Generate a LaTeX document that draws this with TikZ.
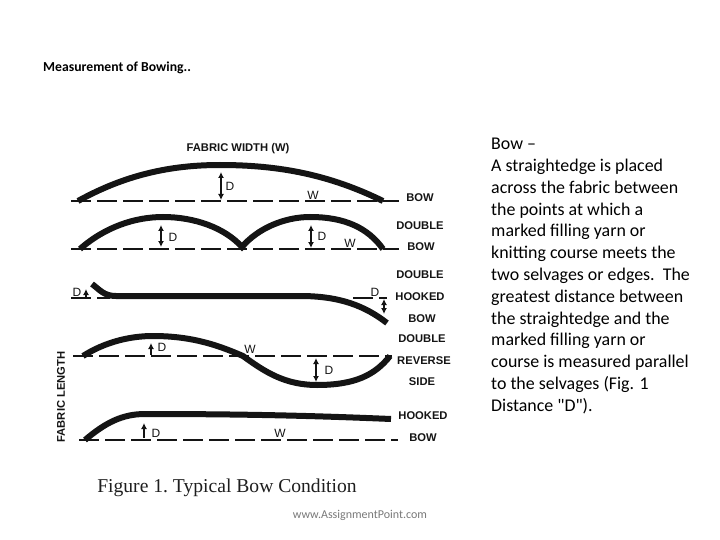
\documentclass[tikz,border=0pt]{standalone}
\usepackage{fontspec}
\setmainfont[Ligatures=TeXOff]{Carlito}
\newfontfamily\figsans{Liberation Sans}
\newfontfamily\figserif{Liberation Serif}
\usetikzlibrary{arrows.meta}
\definecolor{bwink}{RGB}{20,20,20}
\definecolor{bwtext}{RGB}{30,30,30}
\definecolor{bwweb}{RGB}{120,120,120}
\tikzset{
  bowline/.style={draw=bwink, line width=6pt, line cap=butt},
  refline/.style={draw=bwink, line width=1.1pt, dash pattern=on 20pt off 6pt},
  gap/.style={<->, >={Latex[length=6pt,width=6pt]}, draw=bwink, line width=1.3pt},
  tag/.style={font=\figsans\bfseries\fontsize{11.2}{12}\selectfont, text=bwink, inner sep=0pt},
  sym/.style={font=\figsans\fontsize{12}{12}\selectfont, text=bwink, inner sep=0pt},
  body/.style={font=\fontsize{17.9}{21.8}\selectfont, text=black, align=left, anchor=north west, inner sep=0pt}
}
\begin{document}
\begin{tikzpicture}[x=1pt,y=-1pt]
  \useasboundingbox (0,0) rectangle (720,540);
  \node[font=\bfseries\fontsize{13.7}{16}\selectfont, anchor=west, inner sep=0pt] (title) at (43,68) {Measurement of Bowing..};
  \node[body] (note) at (491,138) {Bow –\\A straightedge is placed\\across the fabric between\\the points at which a\\marked filling yarn or\\knitting course meets the\\two selvages or edges.\ \ The\\greatest distance between\\the straightedge and the\\marked filling yarn or\\course is measured parallel\\to the selvages (Fig. 1\\Distance "D").};
  \node[tag] (width) at (238,149) {FABRIC WIDTH (W)};

  % bow
  \draw[refline] (71,201) -- (399,201);
  \draw[bowline] (78,201) .. controls (125,175) and (170,165) .. (220,165) .. controls (280,165) and (330,175) .. (383,201);
  \draw[gap] (221,172) -- (221,200);
  \node[sym] (d1) at (230,186) {D};
  \node[sym] (w1) at (313,195) {W};
  \node[tag] (t1) at (420,198) {BOW};

  % double bow
  \draw[refline] (71,249) -- (399,249);
  \draw[bowline] (80,249) .. controls (105,227) and (135,217) .. (163,217) .. controls (195,217) and (225,228) .. (242,247) .. controls (258,228) and (285,217) .. (310,217) .. controls (345,217) and (368,228) .. (383,249);
  \draw[gap] (161,225) -- (161,247);
  \node[sym] (d2) at (173,237) {D};
  \draw[gap] (311,225) -- (311,248);
  \node[sym] (d3) at (322,236) {D};
  \node[sym] (w2) at (350,243) {W};
  \node[tag] (t2) at (420,226) {DOUBLE};
  \node[tag] (t3) at (421,247) {BOW};

  % double hooked bow
  \draw[refline] (71,298) -- (110,298);
  \draw[refline] (353,298) -- (387,298);
  \draw[bowline] (92,284) .. controls (100,290) and (104,296) .. (116,296) -- (300,296) .. controls (340,296) and (365,306) .. (387,323);
  \draw[gap, <-] (86,289) -- (86,298);
  \node[sym] (d4) at (77,292) {D};
  \draw[gap] (384,299) -- (384,314);
  \node[sym] (d5) at (375,292) {D};
  \node[tag] (t4) at (420,275) {DOUBLE};
  \node[tag] (t5) at (420,297) {HOOKED};
  \node[tag] (t6) at (422,319) {BOW};

  % double reverse side
  \draw[refline] (73,356) -- (392,356);
  \draw[bowline] (83,356) .. controls (105,342) and (130,336) .. (153,336) .. controls (195,336) and (222,347) .. (243,356) .. controls (265,372) and (285,385) .. (317,385) .. controls (355,385) and (375,375) .. (390,356);
  \draw[gap, <-] (151,343) -- (151,355);
  \node[sym] (d6) at (162,347) {D};
  \node[sym] (w3) at (250,349) {W};
  \draw[gap] (316,358) -- (316,382);
  \node[sym] (d7) at (329,370) {D};
  \node[tag] (t7) at (422,339) {DOUBLE};
  \node[tag] (t8) at (424,361) {REVERSE};
  \node[tag] (t9) at (422,382) {SIDE};

  % hooked bow
  \draw[refline] (79,440) -- (398,440);
  \draw[bowline] (85,440) .. controls (105,423) and (122,414) .. (145,414) .. controls (250,414) and (320,416) .. (391,419);
  \draw[gap, <-] (144,423) -- (144,438);
  \node[sym] (d8) at (156,433) {D};
  \node[sym] (w4) at (280,433) {W};
  \node[tag] (t10) at (423,416) {HOOKED};
  \node[tag] (t11) at (423,438) {BOW};

  \node[tag, rotate=90] (length) at (61,397) {FABRIC LENGTH};
  \node[font=\figserif\frenchspacing\fontsize{19.6}{22}\selectfont, text=bwtext, inner sep=0pt] (caption) at (227,488) {Figure 1. Typical Bow Condition};
  \node[font=\fontsize{12}{12}\selectfont, text=bwweb, inner sep=0pt] (web) at (360,515) {www.AssignmentPoint.com};
\end{tikzpicture}
\end{document}
